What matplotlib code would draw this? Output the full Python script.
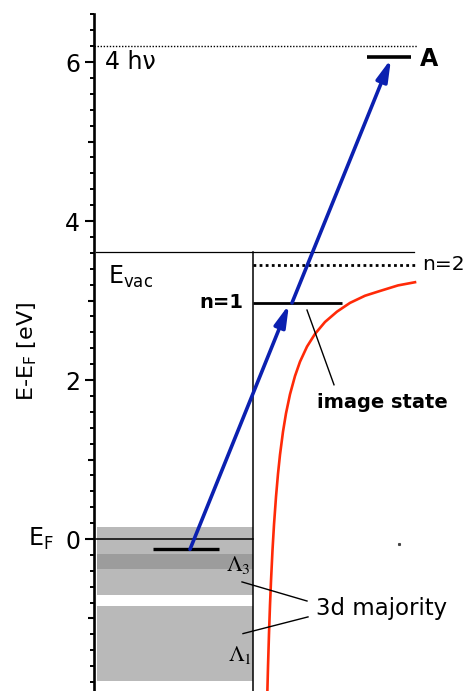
import matplotlib
matplotlib.use("Agg")
import matplotlib.pyplot as plt
from matplotlib.ticker import MultipleLocator, FixedLocator

plt.rcParams["font.family"] = ["DejaVu Sans"]
plt.rcParams["mathtext.default"] = "regular"

# ---- energy levels (eV, relative to E_F) ----
E_VAC = 3.61
E_N1 = 2.97
E_N2 = 3.45
E_A = 6.06
E_4HV = 6.20
E_INIT = -0.13
E_FERMI = 0.0

# ---- lateral positions (arb. units) ----
X_SURFACE = 159
X_INIT = [59, 125]
X_N1 = [X_SURFACE, 248]
X_N2 = [X_SURFACE, 321]
X_A = [273, 317]
X_VAC = [2, 320]
X_4HV = [0, 323]

# 3d majority bands below E_F (top, bottom)
bands_top = [0.15, -0.84]
bands_bottom = [-0.70, -1.79]
lambda3_top, lambda3_bottom = -0.19, -0.38

# image potential
pot_z = [173.4, 174, 175, 176, 177, 178.5, 180, 182, 184, 186, 189, 192,
         196, 201, 206, 213, 221, 231, 243, 256, 271, 286, 304, 321]
pot_e = [-1.90, -1.61, -1.19, -0.83, -0.53, -0.14, 0.18, 0.53, 0.82, 1.06,
         1.35, 1.58, 1.82, 2.05, 2.23, 2.42, 2.58, 2.73, 2.86, 2.97, 3.06,
         3.12, 3.19, 3.23]

# two-photon excitation steps: (z_start, E_start, z_end, E_end)
arrow_z0 = [96, 198]
arrow_e0 = [E_INIT, E_N1]
arrow_z1 = [195, 297]
arrow_e1 = [2.95, 6.04]

BLUE = "#0b20b0"
RED = "#ff2a08"
GRAY = "#b9b9b9"
DARK_GRAY = "#9c9c9c"

fig = plt.figure(figsize=(4.67, 6.91), dpi=100)
ax = fig.add_axes([94 / 467, 0.0, 373 / 467, 677 / 691])
ax.set_xlim(0, 373)
ax.set_ylim(-1.912, 6.604)

for side in ("top", "right", "bottom"):
    ax.spines[side].set_visible(False)
ax.spines["left"].set_linewidth(1.9)
ax.set_xticks([])

ax.yaxis.set_major_locator(FixedLocator([0, 2, 4, 6]))
ax.yaxis.set_minor_locator(MultipleLocator(0.2))
ax.tick_params(axis="y", which="major", length=6.5, width=1.5,
               labelsize=17, pad=3.5)
ax.tick_params(axis="y", which="minor", length=2.8, width=1.4)
# mid-length ticks at odd energies
for yv in (-1, 1, 3, 5):
    ax.plot([-0.016, 0], [yv, yv], transform=ax.get_yaxis_transform(),
            color="black", lw=1.5, clip_on=False, solid_capstyle="butt")

# bulk bands
for t, b in zip(bands_top, bands_bottom):
    ax.fill_between([3, X_SURFACE], b, t, color=GRAY, lw=0, zorder=1)
ax.fill_between([3, X_SURFACE], lambda3_bottom, lambda3_top,
                color=DARK_GRAY, lw=0, zorder=1)

# Fermi level, vacuum level and surface
ax.plot([2, X_SURFACE], [E_FERMI, E_FERMI], color="black", lw=1.1, zorder=2)
ax.plot(X_VAC, [E_VAC, E_VAC], color="black", lw=0.9, zorder=2)
ax.plot([X_SURFACE, X_SURFACE], [-1.912, E_VAC], color="black", lw=1.1,
        zorder=2)
ax.plot(X_4HV, [E_4HV, E_4HV], color="black", lw=1.0, ls=(0, (1, 1.2)),
        zorder=2)

# states
ax.plot(X_INIT, [E_INIT, E_INIT], color="black", lw=2.4, zorder=4,
        solid_capstyle="butt")
ax.plot(X_N1, [E_N1, E_N1], color="black", lw=2.0, zorder=3,
        solid_capstyle="butt")
ax.plot(X_N2, [E_N2, E_N2], color="black", lw=2.0, ls=(0, (1, 1.2)),
        zorder=3)
ax.plot(X_A, [E_A, E_A], color="black", lw=2.6, zorder=3,
        solid_capstyle="butt")

# image potential
ax.plot(pot_z, pot_e, color=RED, lw=1.9, zorder=3)

# excitation arrows
for z0, e0, z1, e1 in zip(arrow_z0, arrow_e0, arrow_z1, arrow_e1):
    ax.annotate("", xy=(z1, e1), xytext=(z0, e0),
                arrowprops=dict(arrowstyle="-|>,head_length=13,head_width=3.4",
                                mutation_scale=1, lw=2.6, color=BLUE,
                                shrinkA=0, shrinkB=0),
                zorder=5)

# pointer lines
ax.plot([213, 240], [2.88, 1.94], color="black", lw=1.0, zorder=3)
ax.plot([148, 213], [-0.54, -0.78], color="black", lw=1.0, zorder=3)
ax.plot([149, 214], [-1.19, -0.98], color="black", lw=1.0, zorder=3)
ax.plot([305], [-0.06], marker="s", ms=1.2, color="#444444", lw=0)

# labels
ax.text(11, 6.00, "4 h\u03bd", fontsize=17, va="center", ha="left")
ax.text(326, 6.04, "A", fontsize=17, fontweight="bold", va="center",
        ha="left")
ax.text(14, 3.30, r"E$_{vac}$", fontsize=17, va="center", ha="left")
ax.text(149, 2.97, "n=1", fontsize=14, fontweight="bold", va="center",
        ha="right")
ax.text(328, 3.45, "n=2", fontsize=14.5, va="center", ha="left")
ax.text(288, 1.72, "image state", fontsize=14, fontweight="bold",
        va="center", ha="center")
ax.text(222, -0.87, "3d majority", fontsize=16.5, va="center", ha="left")
ax.text(157, -0.33, r"$\mathrm{\Lambda}_\mathrm{3}$", fontsize=16,
        va="center", ha="right", math_fontfamily="stix")
ax.text(158, -1.47, r"$\mathrm{\Lambda}_\mathrm{1}$", fontsize=16,
        va="center", ha="right", math_fontfamily="stix")
ax.text(-66, 0.0, r"E$_F$", fontsize=17, va="center", ha="left",
        clip_on=False)

fig.text(27 / 467, 1 - 351 / 691, r"E-E$_F$ [eV]", fontsize=16,
         rotation=90, va="center", ha="center")

fig.savefig("out.png", dpi=100)
